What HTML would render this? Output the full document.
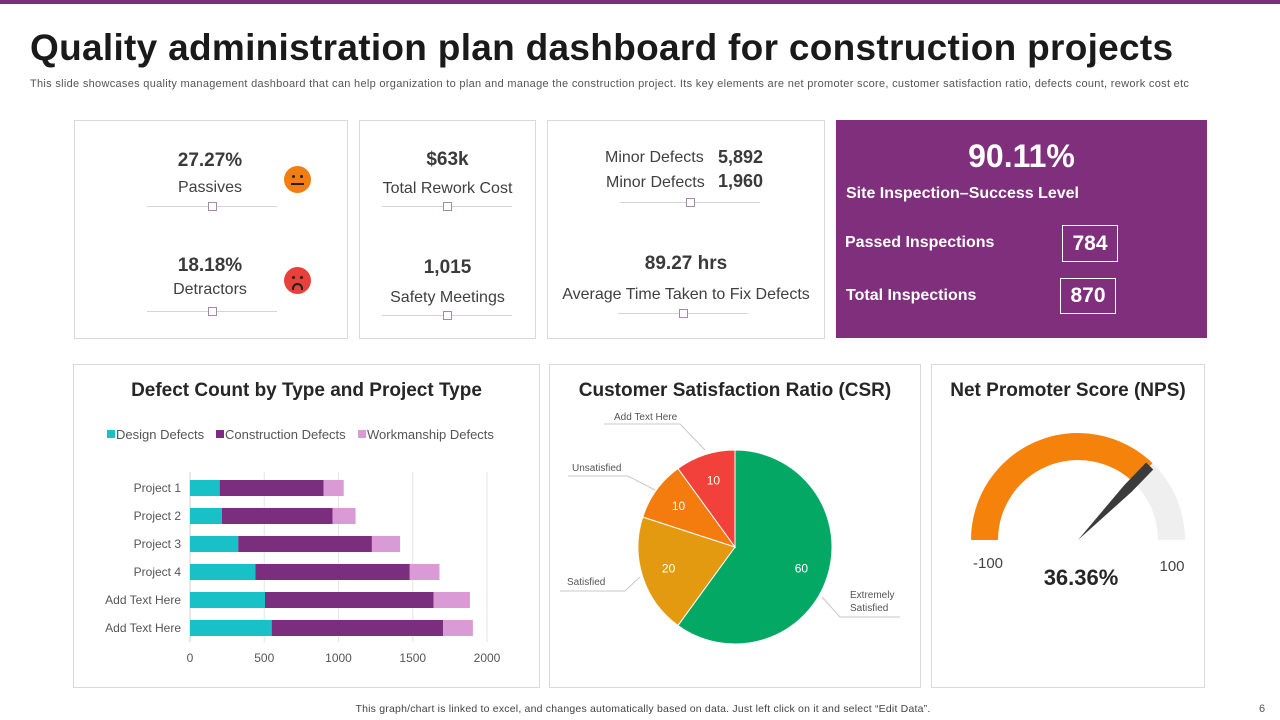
<!DOCTYPE html>
<html><head><meta charset="utf-8">
<style>
*{margin:0;padding:0;box-sizing:border-box}
body{width:1280px;height:720px;position:relative;background:#fff;font-family:"Liberation Sans",Arial,sans-serif;overflow:hidden;color:#333}
.a{position:absolute}
.card{position:absolute;border:1px solid #d9d9d9;background:#fff}
.c{text-align:center;white-space:nowrap}
.big{font-weight:bold;font-size:19px;color:#3a3a3a}
.lbl{font-size:16px;color:#404040}
.sl{position:absolute;height:1px;background:#d4d4d4}
.sl i{position:absolute;left:50%;top:-4px;width:9px;height:9px;margin-left:-4px;border:1px solid #a58aa8;background:#fff}
.pt{color:#fff;font-weight:bold;position:absolute;white-space:nowrap}
.box{position:absolute;border:1px solid #fff;color:#fff;font-weight:bold;font-size:21px;text-align:center}
.ct{position:absolute;font-weight:bold;font-size:19px;color:#262626;text-align:center;white-space:nowrap}
</style></head><body>
<div class="a" style="left:0;top:0;width:1280px;height:4px;background:#7b2d7e"></div>
<div class="a" style="left:30px;top:27px;font-size:37px;font-weight:bold;color:#1a1a1a;white-space:nowrap;letter-spacing:0.3px">Quality administration plan dashboard for construction projects</div>
<div class="a" style="left:30px;top:78px;font-size:11px;color:#555;white-space:nowrap;letter-spacing:0.3px">This slide showcases quality management dashboard that can help organization to plan and manage the construction project. Its key elements are net promoter score, customer satisfaction ratio, defects count, rework cost etc</div>

<div class="card" style="left:74px;top:120px;width:274px;height:219px">
 <div class="a c big" style="left:70px;top:29px;width:130px">27.27%</div>
 <div class="a c lbl" style="left:70px;top:58px;width:130px">Passives</div>
 <div class="sl" style="left:72px;top:85px;width:130px"><i></i></div>
 <div class="a" style="left:209px;top:45px;width:27px;height:27px;border-radius:50%;background:#f07e12"><i class="a" style="left:8px;top:9px;width:3px;height:3px;background:#222;border-radius:50%"></i><i class="a" style="left:16px;top:9px;width:3px;height:3px;background:#222;border-radius:50%"></i><i class="a" style="left:7px;top:17px;width:13px;height:2px;background:#222"></i></div>
 <div class="a c big" style="left:70px;top:134px;width:130px">18.18%</div>
 <div class="a c lbl" style="left:70px;top:160px;width:130px">Detractors</div>
 <div class="sl" style="left:72px;top:190px;width:130px"><i></i></div>
 <div class="a" style="left:209px;top:146px;width:27px;height:27px;border-radius:50%;background:#e8403a"><i class="a" style="left:8px;top:9px;width:3px;height:3px;background:#222;border-radius:50%"></i><i class="a" style="left:16px;top:9px;width:3px;height:3px;background:#222;border-radius:50%"></i><i class="a" style="left:8px;top:16px;width:11px;height:7px;border:2px solid #222;border-bottom:none;border-radius:6px 6px 0 0"></i></div>
</div>

<div class="card" style="left:359px;top:120px;width:177px;height:219px">
 <div class="a c big" style="left:0;top:28px;width:175px">$63k</div>
 <div class="a c lbl" style="left:0;top:59px;width:175px">Total Rework Cost</div>
 <div class="sl" style="left:22px;top:85px;width:130px"><i></i></div>
 <div class="a c big" style="left:0;top:136px;width:175px">1,015</div>
 <div class="a c lbl" style="left:0;top:168px;width:175px">Safety Meetings</div>
 <div class="sl" style="left:22px;top:194px;width:130px"><i></i></div>
</div>

<div class="card" style="left:547px;top:120px;width:278px;height:219px">
 <div class="a lbl" style="left:57px;top:28px">Minor Defects</div>
 <div class="a big" style="left:170px;top:26px;font-size:18px">5,892</div>
 <div class="a lbl" style="left:58px;top:53px">Minor Defects</div>
 <div class="a big" style="left:170px;top:50px;font-size:18px">1,960</div>
 <div class="sl" style="left:72px;top:81px;width:140px"><i></i></div>
 <div class="a c big" style="left:0;top:132px;width:276px">89.27 hrs</div>
 <div class="a c lbl" style="left:0;top:165px;width:276px">Average Time Taken to Fix Defects</div>
 <div class="sl" style="left:70px;top:192px;width:130px"><i></i></div>
</div>

<div class="a" style="left:836px;top:120px;width:371px;height:218px;background:#7f2f7c">
 <div class="pt" style="left:0;width:371px;text-align:center;top:18px;font-size:32px">90.11%</div>
 <div class="pt" style="left:10px;top:65px;font-size:16px">Site Inspection–Success Level</div>
 <div class="pt" style="left:9px;top:114px;font-size:16px">Passed Inspections</div>
 <div class="box" style="left:226px;top:105px;width:56px;height:37px;line-height:35px">784</div>
 <div class="pt" style="left:10px;top:167px;font-size:16px">Total Inspections</div>
 <div class="box" style="left:224px;top:158px;width:56px;height:36px;line-height:34px">870</div>
</div>

<div class="card" style="left:73px;top:364px;width:467px;height:324px"></div>
<div class="ct" style="left:73px;top:380px;width:467px">Defect Count by Type and Project Type</div>
<div class="card" style="left:549px;top:364px;width:372px;height:324px"></div>
<div class="ct" style="left:549px;top:380px;width:372px">Customer Satisfaction Ratio (CSR)</div>
<div class="card" style="left:931px;top:364px;width:274px;height:324px"></div>
<div class="ct" style="left:931px;top:380px;width:274px">Net Promoter Score (NPS)</div>

<svg class="a" id="chart" style="left:0;top:0" width="1280" height="720" font-family="Liberation Sans, Arial, sans-serif"></svg>

<div class="a" style="left:0;width:1286px;text-align:center;top:703px;font-size:10.5px;color:#444;letter-spacing:0.2px">This graph/chart is linked to excel, and changes automatically based on data. Just left click on it and select “Edit Data”.</div>
<div class="a" style="left:1259px;top:703px;font-size:11px;color:#555">6</div>

<script>
const categories=["Project 1","Project 2","Project 3","Project 4","Add Text Here","Add Text Here"];
const seriesNames=["Design Defects","Construction Defects","Workmanship Defects"];
const designDefects=[200,215,325,440,505,550];
const constructionDefects=[700,745,900,1040,1135,1155];
const workmanshipDefects=[135,155,190,200,245,200];
const xTicks=[0,500,1000,1500,2000];
const pieLabels=["Extremely Satisfied","Satisfied","Unsatisfied","Add Text Here"];
const pieValues=[60,20,10,10];
const gaugeValue=36.36;
const gaugeFill=74.5;

const NS="http://www.w3.org/2000/svg";
const svg=document.getElementById('chart');
function mk(t,at,parent){const e=document.createElementNS(NS,t);for(const k in at)e.setAttribute(k,at[k]);(parent||svg).appendChild(e);return e;}

// ---- bar chart ----
const X0=190,X1=487,XMAX=2000;
const xs=v=>X0+(X1-X0)*v/XMAX;
const rowY=i=>488+i*28;
const colors=["#17c1c7","#7b2d7e","#d99ad6"];
xTicks.forEach(t=>{
 const g=mk('line',{x1:xs(t),x2:xs(t),y1:472,y2:642,stroke:'#e6e6e6','stroke-width':1});
 
 
 const tx=mk('text',{x:xs(t),y:662,'text-anchor':'middle','font-size':12,fill:'#555'});
 tx.textContent=t;
 
 
});
const ax=mk('line',{x1:X0,x2:X0,y1:472,y2:642,stroke:'#d0d0d0'});


const all=[designDefects,constructionDefects,workmanshipDefects];
categories.forEach((c,i)=>{
 const y=rowY(i);
 const tl=mk('text',{x:181,y:y+4,'text-anchor':'end','font-size':12,fill:'#555'});
 tl.textContent=c;
 
 
 let acc=0;
 all.forEach((s,k)=>{
  const r=mk('rect',{x:xs(acc),y:y-8,width:xs(acc+s[i])-xs(acc),height:16,fill:colors[k]});
  
  
  acc+=s[i];
 });
});
let lx=107;
const legW=[109,142,133];
seriesNames.forEach((n,k)=>{
 const r=mk('rect',{x:lx,y:430,width:8,height:8,fill:colors[k]});
 
 
 const t=mk('text',{x:lx+9,y:439,'font-size':13,fill:'#555'});
 t.textContent=n;
 
 
 lx+=legW[k];
});

// ---- pie ----
const PCX=735,PCY=547,PR=97;
const pieColors=["#04a865","#e49a10","#f47b0e","#f2403a"];
const total=pieValues.reduce((a,b)=>a+b,0);
let ang=0;
const pt=(a,r)=>[PCX+r*Math.sin(a),PCY-r*Math.cos(a)];
const labelPos=[{lx:850,ly:598,line:[[822,597],[840,617],[900,617]],anchor:'start',two:true},
 {lx:567,ly:585,line:[[640,577],[625,591],[560,591]],anchor:'start'},
 {lx:572,ly:471,line:[[655,490],[628,476],[568,476]],anchor:'start'},
 {lx:614,ly:420,line:[[705,450],[680,424],[604,424]],anchor:'start'}];
pieValues.forEach((v,i)=>{
 const a0=ang,a1=ang+v/total*2*Math.PI;ang=a1;
 const p0=pt(a0,PR),p1=pt(a1,PR);
 const large=(a1-a0)>Math.PI?1:0;
 const s=mk('path',{d:`M${PCX},${PCY}L${p0[0]},${p0[1]}A${PR},${PR} 0 ${large} 1 ${p1[0]},${p1[1]}Z`,fill:pieColors[i],stroke:'#fff','stroke-width':1});
 
 
 const m=pt((a0+a1)/2,PR*0.72);
 const vt=mk('text',{x:m[0],y:m[1]+4,'text-anchor':'middle','font-size':12,fill:'#fff'});
 vt.textContent=v;
 
 
 const L=labelPos[i];
 const pl=mk('polyline',{points:L.line.map(p=>p.join(',')).join(' '),fill:'none',stroke:'#c8c8c8','stroke-width':1});
 
 
 const lt=mk('text',{x:L.lx,y:L.ly,'font-size':10,fill:'#555'});
 if(L.two){const w=pieLabels[i].split(' ');lt.textContent=w[0];const t2=mk('tspan',{x:L.lx,dy:13},lt);t2.textContent=w[1];}
 else lt.textContent=pieLabels[i];
 
 
});

// ---- gauge ----
const GX=1078,GY=540,RO=107,RI=80;
function arc(f0,f1,col,name){
 const a0=Math.PI*(1-f0),a1=Math.PI*(1-f1);
 const P=(a,r)=>[GX+r*Math.cos(a),GY-r*Math.sin(a)];
 const o0=P(a0,RO),o1=P(a1,RO),i1=P(a1,RI),i0=P(a0,RI);
 const e=mk('path',{d:`M${o0}A${RO},${RO} 0 0 1 ${o1}L${i1}A${RI},${RI} 0 0 0 ${i0}Z`,fill:col});
 
 
}
arc(0,1,'#efefef','gauge-track');
arc(0,gaugeFill/100,'#f5820b','gauge-fill');
const na=Math.PI*(1-gaugeFill/100);
const tip=[GX+(RO-4)*Math.cos(na),GY-(RO-4)*Math.sin(na)];
const px=Math.sin(na)*5,py=Math.cos(na)*5;
const base=[GX+(RI-8)*Math.cos(na),GY-(RI-8)*Math.sin(na)];
const nd=mk('path',{d:`M${GX},${GY}L${base[0]+px},${base[1]+py}L${tip[0]+px},${tip[1]+py}L${tip[0]-px},${tip[1]-py}L${base[0]-px},${base[1]-py}Z`,fill:'#3b3b3b'});


const gmin=mk('text',{x:988,y:568,'text-anchor':'middle','font-size':15,fill:'#444'});
gmin.textContent='-100';


const gmax=mk('text',{x:1172,y:571,'text-anchor':'middle','font-size':15,fill:'#444'});
gmax.textContent='100';


const gv=mk('text',{x:1081,y:585,'text-anchor':'middle','font-size':22,'font-weight':'bold',fill:'#262626'});
gv.textContent=gaugeValue.toFixed(2)+'%';


</script>
</body></html>
